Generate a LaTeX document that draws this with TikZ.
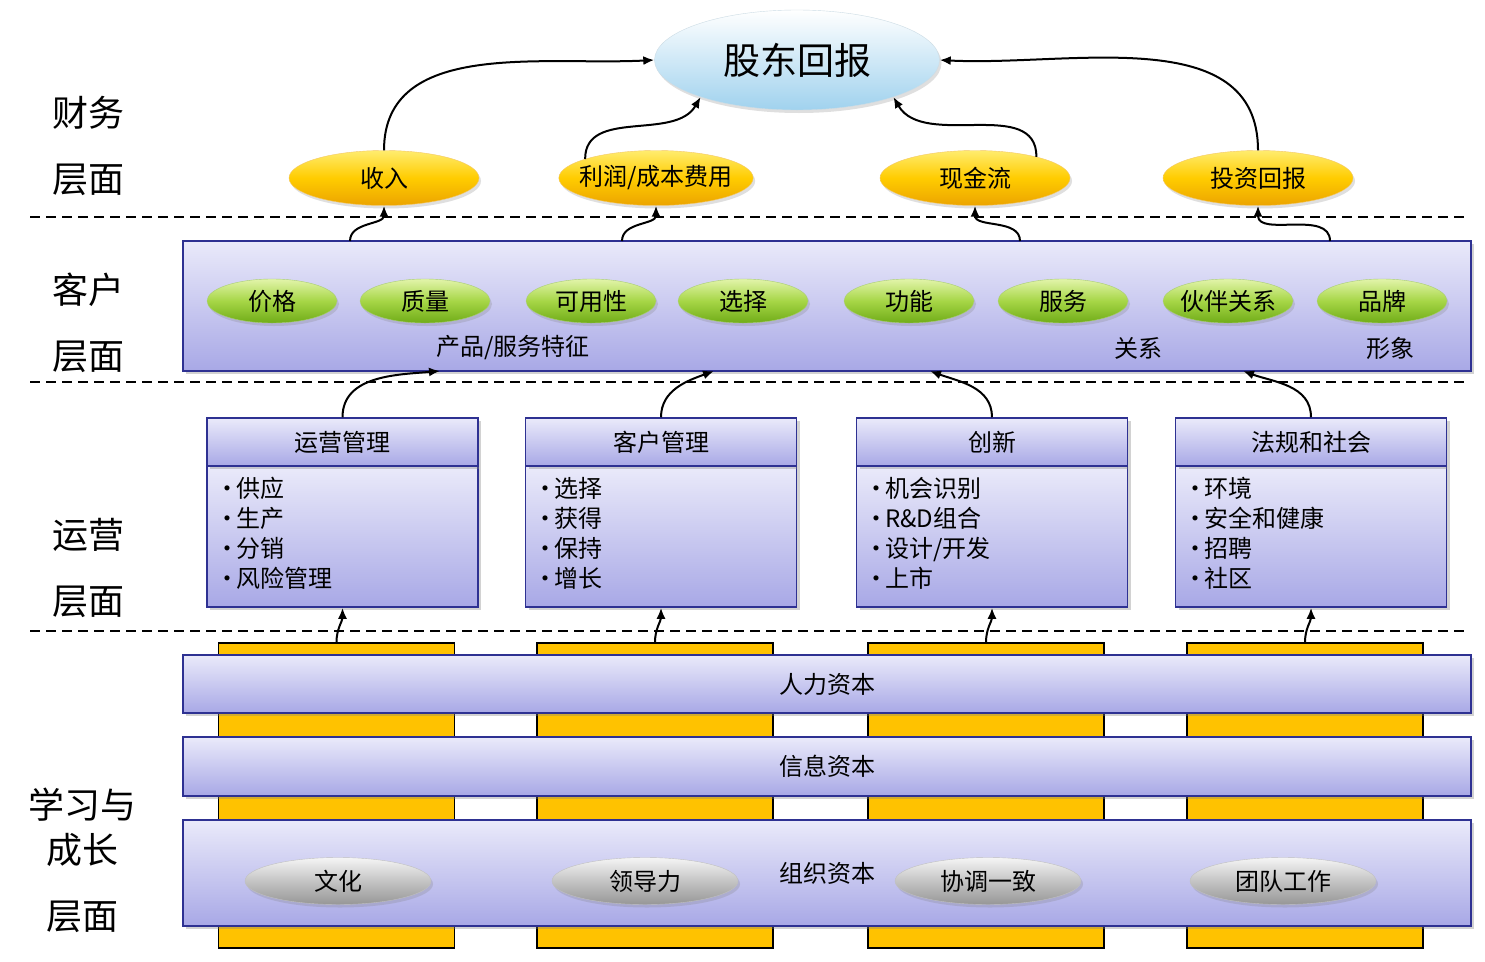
\documentclass[tikz,border=0pt]{standalone}
\usepackage{fontspec}
\setmainfont{Noto Sans CJK SC}
\usetikzlibrary{shapes.geometric,shadows,arrows.meta}

\definecolor{boxblue}{RGB}{46,49,146}
\definecolor{lavtop}{RGB}{234,234,250}
\definecolor{lavbot}{RGB}{168,168,230}
\definecolor{goldtop}{RGB}{255,236,110}
\definecolor{goldmid}{RGB}{255,204,0}
\definecolor{goldbot}{RGB}{236,164,0}
\definecolor{greentop}{RGB}{226,244,170}
\definecolor{greenmid}{RGB}{166,214,70}
\definecolor{greenbot}{RGB}{112,172,24}
\definecolor{graytop}{RGB}{245,245,245}
\definecolor{graymid}{RGB}{196,196,196}
\definecolor{graybot}{RGB}{150,150,150}
\definecolor{retblue}{RGB}{160,210,238}
\definecolor{barfill}{RGB}{255,194,0}

\newcommand{\itm}{\textbullet\kern-3pt}

\tikzstyle{level_label}=[inner sep=0,font=\fontsize{36}{40}\selectfont]
\tikzstyle{goal_node}=[ellipse,inner sep=0,minimum width=285pt,minimum height=100pt,top color=white,bottom color=retblue,draw=retblue!80!black!40,font=\fontsize{37}{40}\selectfont,drop shadow={opacity=0.25,shadow xshift=2pt,shadow yshift=-3pt}]
\tikzstyle{fin_node}=[ellipse,inner sep=0,minimum width=190pt,minimum height=55pt,top color=goldtop,bottom color=goldbot,middle color=goldmid,draw=goldbot!60,font=\fontsize{24}{28}\selectfont,drop shadow={opacity=0.25,shadow xshift=2pt,shadow yshift=-3pt}]
\tikzstyle{cust_node}=[ellipse,inner sep=0,minimum width=130pt,minimum height=44pt,top color=greentop,bottom color=greenbot,middle color=greenmid,draw=greenbot!60,font=\fontsize{24}{28}\selectfont,drop shadow={opacity=0.25,shadow xshift=2pt,shadow yshift=-3pt}]
\tikzstyle{org_node}=[ellipse,inner sep=0,minimum width=186pt,minimum height=47pt,top color=graytop,bottom color=graybot,middle color=graymid,draw=graybot!60,font=\fontsize{24}{28}\selectfont,drop shadow={opacity=0.25,shadow xshift=2pt,shadow yshift=-3pt}]
\tikzstyle{lav_box}=[rectangle,inner sep=0,draw=boxblue,line width=1.5pt,top color=lavtop,bottom color=lavbot,font=\fontsize{24}{28}\selectfont,drop shadow={opacity=0.35,shadow xshift=3pt,shadow yshift=-3pt}]
\tikzstyle{ops_head}=[lav_box,minimum width=271pt,minimum height=48pt]
\tikzstyle{ops_body}=[lav_box,minimum width=271pt,minimum height=141pt]
\tikzstyle{cap_bar}=[lav_box,minimum width=1288pt]
\tikzstyle{gold_bar}=[rectangle,inner sep=0,draw=black,line width=1.5pt,fill=barfill,minimum width=236pt,minimum height=305pt]
\tikzstyle{items}=[inner sep=0,anchor=north west,align=left,font=\fontsize{24}{30}\selectfont]
\tikzstyle{plain_text}=[inner sep=0,font=\fontsize{24}{28}\selectfont]
\tikzstyle{sep_line}=[line width=2pt,dash pattern=on 10pt off 6pt]
\tikzstyle{link}=[line width=2pt,-{Latex[length=11pt,width=9pt]}]

\begin{document}
\begin{tikzpicture}[x=1pt,y=1pt]
\useasboundingbox (0,0) rectangle (1485,-961);
\fill[white] (0,0) rectangle (1485,-961);

% level names
\node [level_label] (fin1) at (88,-113) {财务};
\node [level_label] (fin2) at (88,-180) {层面};
\node [level_label] (cus1) at (88,-290) {客户};
\node [level_label] (cus2) at (88,-357) {层面};
\node [level_label] (opr1) at (88,-535) {运营};
\node [level_label] (opr2) at (88,-602) {层面};
\node [level_label] (lrn1) at (82,-805) {学习与};
\node [level_label] (lrn2) at (82,-850) {成长};
\node [level_label] (lrn3) at (82,-917) {层面};

\draw[sep_line] (30,-217) -- (1465,-217);
\draw[sep_line] (30,-382) -- (1465,-382);
\draw[sep_line] (30,-631) -- (1465,-631);

% financial
\node [goal_node] (ret) at (797,-60) {股东回报};
\node [fin_node] (inc) at (384,-178) {收入};
\node [fin_node,inner xsep=-8pt] (prof) at (656,-178) {利润/成本费用};
\node [fin_node] (cash) at (975,-178) {现金流};
\node [fin_node] (inv) at (1258,-178) {投资回报};

% customer
\node [lav_box,minimum width=1288pt,minimum height=130pt] (cust) at (827,-306) {};
\node [cust_node] (price) at (272,-301) {价格};
\node [cust_node] (qual) at (425,-301) {质量};
\node [cust_node] (avail) at (591,-301) {可用性};
\node [cust_node] (choice) at (743,-301) {选择};
\node [cust_node] (func) at (909,-301) {功能};
\node [cust_node] (serv) at (1063,-301) {服务};
\node [cust_node,inner xsep=-3pt] (partner) at (1228,-301) {伙伴关系};
\node [cust_node] (brand) at (1382,-301) {品牌};
\node [plain_text] (feat) at (513,-348) {产品/服务特征};
\node [plain_text] (rel) at (1138,-348) {关系};
\node [plain_text] (img) at (1390,-348) {形象};

% operations
\node [ops_body] (ops1b) at (342.5,-536.5) {};
\node [ops_head] (ops1) at (342.5,-442) {运营管理};
\node [items] (ops1t) at (215,-477) {\itm 供应\\\itm 生产\\\itm 分销\\\itm 风险管理};
\node [ops_body] (ops2b) at (661,-536.5) {};
\node [ops_head] (ops2) at (661,-442) {客户管理};
\node [items] (ops2t) at (533,-477) {\itm 选择\\\itm 获得\\\itm 保持\\\itm 增长};
\node [ops_body] (ops3b) at (992,-536.5) {};
\node [ops_head] (ops3) at (992,-442) {创新};
\node [items] (ops3t) at (864,-477) {\itm 机会识别\\\itm R\&D组合\\\itm 设计/开发\\\itm 上市};
\node [ops_body] (ops4b) at (1311,-536.5) {};
\node [ops_head] (ops4) at (1311,-442) {法规和社会};
\node [items] (ops4t) at (1183,-477) {\itm 环境\\\itm 安全和健康\\\itm 招聘\\\itm 社区};

% learning and growth
\node [gold_bar] (bar1) at (336.5,-795.5) {};
\node [gold_bar] (bar2) at (655,-795.5) {};
\node [gold_bar] (bar3) at (986,-795.5) {};
\node [gold_bar] (bar4) at (1305,-795.5) {};
\node [cap_bar,minimum height=58pt] (hum) at (827,-684) {人力资本};
\node [cap_bar,minimum height=59pt] (info) at (827,-766.5) {信息资本};
\node [cap_bar,minimum height=106pt] (org) at (827,-873) {组织资本};
\node [org_node] (cult) at (338,-881) {文化};
\node [org_node] (lead) at (645,-881) {领导力};
\node [org_node] (align) at (988,-881) {协调一致};
\node [org_node] (team) at (1283,-881) {团队工作};

% points on the customer box
\coordinate (cust_o1) at (350,-241);
\coordinate (cust_o2) at (622,-241);
\coordinate (cust_o3) at (1020,-241);
\coordinate (cust_o4) at (1330,-241);
\coordinate (cust_i1) at (440,-371);
\coordinate (cust_i2) at (714,-371);
\coordinate (cust_i3) at (930,-371);
\coordinate (cust_i4) at (1243,-371);

\draw[link] (inc.north) to[out=90,in=183] (ret.west);
\draw[link] (prof.165) to[out=90,in=240] (ret.201);
\draw[link] (cash.19) to[out=90,in=-60] (ret.-21);
\draw[link] (inv.north) to[out=90,in=-3] (ret.east);

\draw[link] (cust_o1) to[out=90,in=-90] (inc.south);
\draw[link] (cust_o2) to[out=90,in=-90] (prof.south);
\draw[link] (cust_o3) to[out=90,in=-90] (cash.south);
\draw[link] (cust_o4) to[out=90,in=-90] (inv.south);

\draw[link] (ops1.north) to[out=90,in=185] (cust_i1);
\draw[link] (ops2.north) to[out=90,in=200] (cust_i2);
\draw[link] (ops3.north) to[out=90,in=-20] (cust_i3);
\draw[link] (ops4.north) to[out=90,in=-20] (cust_i4);

\draw[link] (bar1.north) to[out=90,in=-90] (ops1b.south);
\draw[link] (bar2.north) to[out=90,in=-90] (ops2b.south);
\draw[link] (bar3.north) to[out=90,in=-90] (ops3b.south);
\draw[link] (bar4.north) to[out=90,in=-90] (ops4b.south);

\end{tikzpicture}
\end{document}
